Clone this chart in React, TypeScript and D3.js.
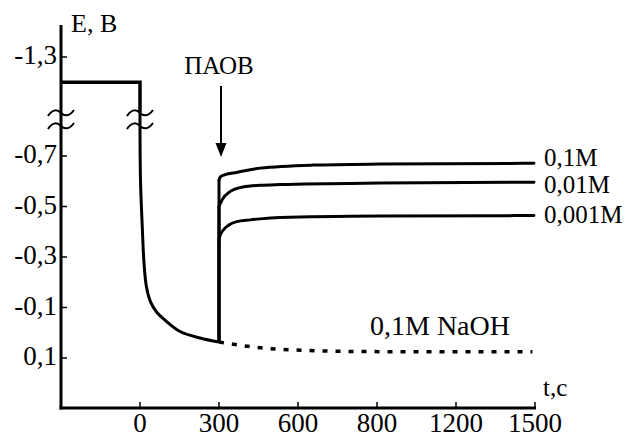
import React from "react";
import * as d3 from "d3";

// ---- data ----
const xTickValues = [0, 300, 600, 900, 1200, 1500];
const xTickLabels = ["0", "300", "600", "800", "1200", "1500"];
const yLowerTicks = [-0.7, -0.5, -0.3, -0.1, 0.1];
const yLowerLabels = ["-0,7", "-0,5", "-0,3", "-0,1", "0,1"];
const yUpperTicks = [-1.3];
const yUpperLabels = ["-1,3"];

// upper (broken) part of the base curve: [t, E]
const baseUpper: [number, number][] = [
  [-300, -1.2],
  [0, -1.2],
  [0, -1.08],
];
// lower part of base curve up to injection
const baseLower: [number, number][] = [
  [0, -0.82],
  [2, -0.6],
  [9, -0.41],
  [15, -0.28],
  [24, -0.185],
  [40, -0.122],
  [63, -0.082],
  [95, -0.05],
  [152, -0.005],
  [228, 0.021],
  [300, 0.037],
];
// 0.1M NaOH continuation (dotted)
const naohOnly: [number, number][] = [
  [300, 0.037],
  [481, 0.062],
  [608, 0.069],
  [734, 0.073],
  [1000, 0.075],
  [1490, 0.075],
];
const jumpStart: [number, number] = [300, 0.037];
const c01M: [number, number][] = [
  [300, -0.605],
  [306, -0.618],
  [323, -0.626],
  [367, -0.635],
  [456, -0.652],
  [657, -0.664],
  [911, -0.668],
  [1496, -0.671],
];
const c001M: [number, number][] = [
  [300, -0.5],
  [312, -0.527],
  [342, -0.559],
  [391, -0.577],
  [456, -0.584],
  [532, -0.587],
  [911, -0.593],
  [1496, -0.596],
];
const c0001M: [number, number][] = [
  [300, -0.37],
  [304, -0.385],
  [315, -0.405],
  [335, -0.425],
  [367, -0.44],
  [418, -0.447],
  [456, -0.451],
  [532, -0.456],
  [911, -0.462],
  [1496, -0.464],
];
const seriesLabels = ["0,1M", "0,01M", "0,001M"];

const SERIF = '"Liberation Serif", "Times New Roman", Tinos, serif';

export default function App() {
  const W = 625;
  const H = 436;
  const x = d3.scaleLinear().domain([-300, 1500]).range([61, 535]);
  const yUp = d3.scaleLinear().domain([-1.3, -1.1]).range([57, 107.5]);
  const yLo = d3.scaleLinear().domain([-0.7, 0.1]).range([156, 358]);
  const axisY = 408;
  const axisTop = 25;
  const ff: React.CSSProperties = { fontFamily: SERIF };

  const lineLin = d3
    .line<[number, number]>()
    .x((d) => x(d[0]))
    .y((d) => yLo(d[1]))
    .curve(d3.curveLinear);
  const lineMono = d3
    .line<[number, number]>()
    .x((d) => x(d[0]))
    .y((d) => yLo(d[1]))
    .curve(d3.curveMonotoneX);

  const upperPts: [number, number][] = baseUpper.map((d) => [x(d[0]), yUp(d[1])]);
  const lowerPts: [number, number][] = baseLower.map((d) => [x(d[0]), yLo(d[1])]);
  const upperPath = d3.line()(upperPts) || "";
  const bridgePath = d3.line()([upperPts[upperPts.length - 1], lowerPts[0]]) || "";
  const lowerPath = d3.line().curve(d3.curveCatmullRom.alpha(0.5))(lowerPts) || "";

  const series = [c01M, c001M, c0001M];
  const breakYs = [113, 126];
  const breakXs = [x(-300), x(0)];
  const tilde = (cx: number, cy: number) =>
    `M${cx - 13},${cy + 3} C${cx - 8},${cy - 5} ${cx - 3},${cy - 3} ${cx},${cy} S${cx + 8},${cy + 4} ${cx + 13},${cy - 3}`;

  const arrowX = x(300) + 2;
  const labelYs = [166, 193, 223];

  return (
    <svg
      width={W}
      height={H}
      style={{ position: "absolute", left: 0, top: 0, background: "#fff", fontFamily: SERIF }}
    >
      <style>{`text { font-family: ${SERIF}; fill: #000; }`}</style>
      <rect x={0} y={0} width={W} height={H} fill="#fff" />
      {/* axes */}
      <line x1={x(-300)} x2={x(-300)} y1={axisTop} y2={axisY + 1.5} stroke="#000" strokeWidth={3} />
      <line x1={x(-300) - 1.5} x2={x(1500) + 1} y1={axisY} y2={axisY} stroke="#000" strokeWidth={3} />
      {/* x ticks */}
      {xTickValues.map((v, i) => (
        <g key={"xt" + i}>
          <line x1={x(v)} x2={x(v)} y1={axisY} y2={axisY - 6} stroke="#000" strokeWidth={1.5} />
          <text x={x(v)} y={432} textAnchor="middle" fontSize={27} style={ff}>
            {xTickLabels[i]}
          </text>
        </g>
      ))}
      {/* y ticks */}
      {yLowerTicks.map((v, i) => (
        <g key={"yl" + i}>
          <line x1={x(-300)} x2={x(-300) + 6} y1={yLo(v)} y2={yLo(v)} stroke="#000" strokeWidth={1.5} />
          <text x={57} y={yLo(v) + 7} textAnchor="end" fontSize={27} style={ff}>
            {yLowerLabels[i]}
          </text>
        </g>
      ))}
      {yUpperTicks.map((v, i) => (
        <g key={"yu" + i}>
          <line x1={x(-300)} x2={x(-300) + 6} y1={yUp(v)} y2={yUp(v)} stroke="#000" strokeWidth={1.5} />
          <text x={57} y={yUp(v) + 7} textAnchor="end" fontSize={27} style={ff}>
            {yUpperLabels[i]}
          </text>
        </g>
      ))}
      <text x={71} y={32} fontSize={26} style={ff}>
        E, B
      </text>
      <text x={543} y={396} fontSize={25} style={ff}>
        t,c
      </text>
      {/* base curve */}
      <path d={upperPath} fill="none" stroke="#000" strokeWidth={3.5} strokeLinejoin="miter" />
      <path d={bridgePath} fill="none" stroke="#000" strokeWidth={3} />
      <path d={lowerPath} fill="none" stroke="#000" strokeWidth={3} strokeLinejoin="round" />
      <path d={lineMono(naohOnly) || ""} fill="none" stroke="#000" strokeWidth={3.5} strokeDasharray="5,8" />
      {series.map((s, i) => (
        <g key={"s" + i}>
          <path d={lineLin([jumpStart, s[0]]) || ""} fill="none" stroke="#000" strokeWidth={3} />
          <path d={lineMono(s) || ""} fill="none" stroke="#000" strokeWidth={3} strokeLinecap="round" />
        </g>
      ))}
      {/* break marks */}
      {breakXs.map((bx, i) =>
        breakYs.map((by, j) => (
          <path key={`br${i}${j}`} d={tilde(bx, by)} fill="none" stroke="#000" strokeWidth={2} />
        ))
      )}
      {/* series labels */}
      {seriesLabels.map((l, i) => (
        <text key={"l" + i} x={544} y={labelYs[i]} fontSize={25} style={ff}>
          {l}
        </text>
      ))}
      <text x={370} y={335} fontSize={28} style={ff}>
        0,1M NaOH
      </text>
      {/* arrow + ПАОВ */}
      <text x={219} y={74} textAnchor="middle" fontSize={25} style={ff}>
        ПАОВ
      </text>
      <line x1={arrowX} x2={arrowX} y1={86} y2={146} stroke="#000" strokeWidth={2} />
      <path d={`M${arrowX - 5.5},143 L${arrowX + 5.5},143 L${arrowX},157 Z`} fill="#000" />
    </svg>
  );
}
